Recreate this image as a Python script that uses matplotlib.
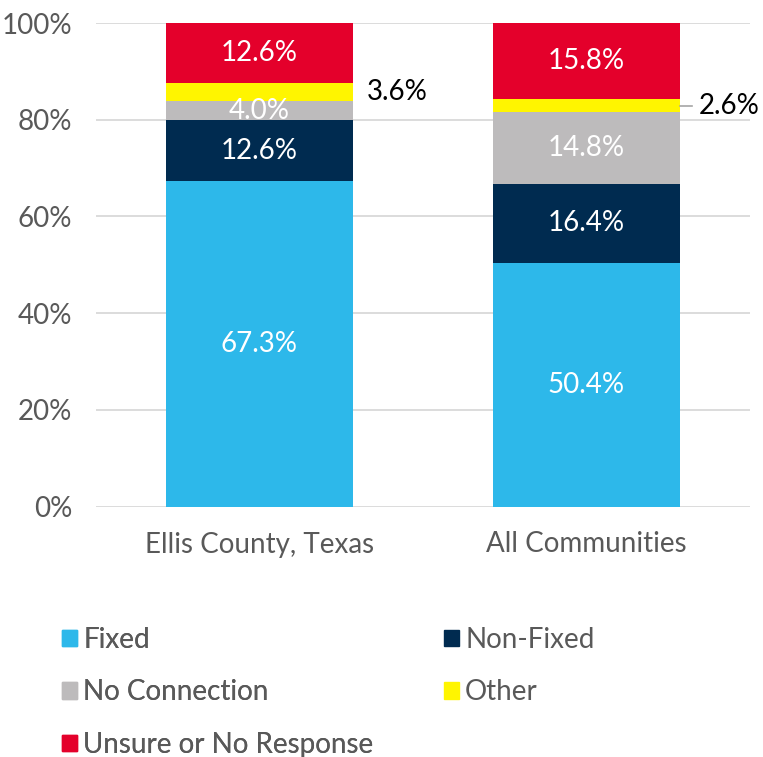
import matplotlib
matplotlib.use("Agg")
import matplotlib.pyplot as plt
from matplotlib.patches import Patch
import numpy as np

categories = ["Ellis County, Texas", "All Communities"]
series_names = ["Fixed", "Non-Fixed", "No Connection", "Other", "Unsure or No Response"]
fixed = [67.3, 50.4]
non_fixed = [12.6, 16.4]
no_connection = [4.0, 14.8]
other = [3.6, 2.6]
unsure = [12.6, 15.8]
colors = ["#2DB8EA", "#002B50", "#BDBBBC", "#FFF500", "#E4002B"]

plt.rcParams['font.family'] = ['Lato', 'DejaVu Sans']
FS = 20

fig = plt.figure(figsize=(7.63, 7.57), dpi=100)
ax = fig.add_axes([96/763, 1-506.5/757, 654/763, (506.5-23)/757])

x = np.arange(len(categories))
width = 0.572
bottom = np.zeros(len(categories))
all_series = [fixed, non_fixed, no_connection, other, unsure]
for name, vals, col in zip(series_names, all_series, colors):
    vals = np.array(vals)
    ax.bar(x, vals, width, bottom=bottom, color=col, label=name, zorder=2)
    for i, v in enumerate(vals):
        mid = bottom[i] + v/2
        if name == "Other":
            if i == 0:
                ax.text(x[i] + width/2 + 0.043, mid, f"{v:.1f}%", ha='left', va='center',
                        fontsize=FS, color='black', zorder=3)
            else:
                xe = x[i] + width/2
                ax.plot([xe, xe + 0.037], [mid, mid], color='#A6A6A6', lw=1.2, zorder=3, clip_on=False)
                ax.text(xe + 0.058, mid, f"{v:.1f}%", ha='left', va='center',
                        fontsize=FS, color='black', zorder=3, clip_on=False)
        else:
            ax.text(x[i], mid, f"{v:.1f}%", ha='center', va='center',
                    fontsize=FS, color='white', zorder=3)
    bottom = bottom + vals

ax.set_xlim(-0.5, 1.5)
ax.set_ylim(0, 100)
ax.set_yticks(np.arange(0, 101, 20))
ax.set_yticklabels([f"{t}%" for t in range(0, 101, 20)])
ax.set_xticks(x)
ax.set_xticklabels(categories)
ax.tick_params(axis='both', length=0, labelsize=FS, labelcolor='#595959')
ax.tick_params(axis='y', pad=17)
ax.tick_params(axis='x', pad=18)
ax.grid(axis='y', color='#D9D9D9', lw=1.3, zorder=0)
for s in ax.spines.values():
    s.set_visible(False)

handles = [Patch(color=c) for c in colors]
leg_kw = dict(loc='upper left', frameon=False, fontsize=FS, labelcolor='#595959',
              handlelength=0.54, handleheight=0.54, handletextpad=0.22,
              labelspacing=0.95, borderpad=0, borderaxespad=0)
left_idx = [0, 2, 4]
right_idx = [1, 3]
leg1 = fig.legend([handles[i] for i in left_idx], [series_names[i] for i in left_idx],
                  bbox_to_anchor=(62/763, 1-627/757), **leg_kw)
fig.add_artist(leg1)
leg2 = fig.legend([handles[i] for i in right_idx], [series_names[i] for i in right_idx],
                  bbox_to_anchor=(444/763, 1-627/757), **leg_kw)

fig.savefig("out.png", dpi=100)
